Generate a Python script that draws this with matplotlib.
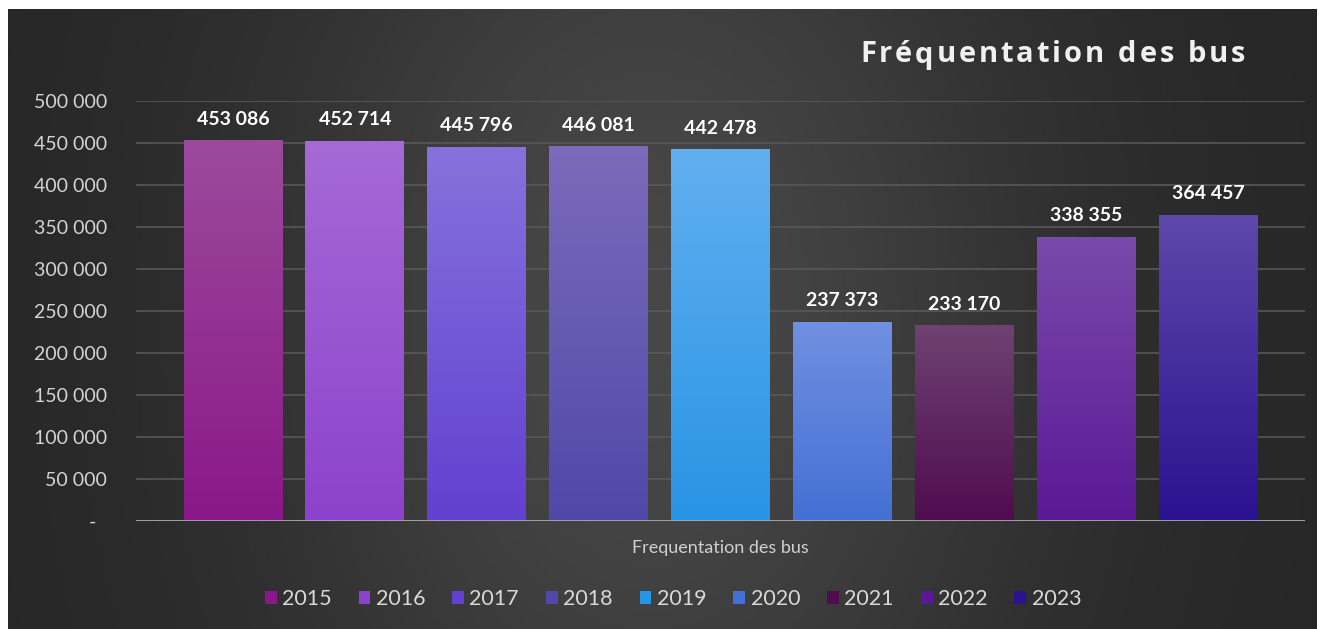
import numpy as np
import matplotlib
matplotlib.use("Agg")
import matplotlib.pyplot as plt
from matplotlib.colors import to_rgb
from matplotlib.patches import Patch
from matplotlib.ticker import FuncFormatter

# ==============================
# DATA
# ==============================
years = ["2015", "2016", "2017", "2018", "2019", "2020", "2021", "2022", "2023"]
values = [453086, 452714, 445796, 446081, 442478, 237373, 233170, 338355, 364457]
top_colors = ["#9c4a9c", "#a66ad6", "#8672dc", "#7b6bbb", "#62aff0",
              "#7090e2", "#6e4272", "#7a4aaa", "#5e48aa"]
bottom_colors = ["#8a1888", "#8c42cc", "#6240d0", "#5048a8", "#2894e4",
                 "#4470d4", "#500c50", "#5a1896", "#2a1290"]
xlabel = "Frequentation des bus"
title = "Fréquentation des bus"
yticks = [0, 50000, 100000, 150000, 200000, 250000, 300000, 350000, 400000, 450000, 500000]

plt.rcParams["font.family"] = ["Lato", "DejaVu Sans"]

W, H = 1319, 629
fig = plt.figure(figsize=(W / 100, H / 100), dpi=100, facecolor="white")

# ==============================
# BACKGROUND (dark gradient)
# ==============================
bg = fig.add_axes([8 / W, 0, (1317 - 8) / W, (H - 9) / H])
bg.set_axis_off()
gx = np.linspace(-1, 1, 400)
gy = np.linspace(-1, 1, 200)
XX, YY = np.meshgrid(gx, gy)
shade = 0.15 + 0.13 * np.exp(-((XX + 0.02) ** 2) / 0.35) * (1 - 0.25 * YY ** 2)
bg.imshow(np.dstack([shade] * 3), aspect="auto", extent=(0, 1, 0, 1))
bg.set_xlim(0, 1)
bg.set_ylim(0, 1)

# ==============================
# BARS
# ==============================
ax = fig.add_axes([136 / W, 1 - 521 / H, (1305 - 136) / W, (521 - 101) / H])
ax.set_facecolor("none")
x = np.arange(len(years))
width = 0.81
bars = ax.bar(x, values, width=width, color=bottom_colors, zorder=3)

for b, c_top, c_bot in zip(bars, top_colors, bottom_colors):
    t = np.array(to_rgb(c_top))
    bt = np.array(to_rgb(c_bot))
    f = np.linspace(0, 1, 256)[:, None]
    grad = (t * (1 - f) + bt * f)[:, None, :]
    x0 = b.get_x()
    im = ax.imshow(grad, aspect="auto", zorder=4,
                   extent=(x0, x0 + b.get_width(), 0, b.get_height()))
    im.set_clip_path(b)

for xi, v in zip(x, values):
    ax.annotate(f"{v:,}".replace(",", " "), (xi, v), xytext=(0, 9),
                textcoords="offset points", ha="center", va="bottom",
                fontsize=14, fontweight="bold", color="white", zorder=5)

ax.set_xlim(-0.795, len(years) - 1 + 0.795)
ax.set_ylim(0, 500000)
ax.set_yticks(yticks)
ax.yaxis.set_major_formatter(FuncFormatter(
    lambda v, p: "-  " if v == 0 else f"{int(v):,}".replace(",", " ")))
ax.tick_params(axis="y", length=0, pad=21, labelsize=14, labelcolor="#d4d4d4")
ax.set_xticks([])
ax.grid(axis="y", color="#585858", linewidth=1.2, zorder=0)
ax.axhline(0, color="#a8a8a8", linewidth=2, zorder=6)
for s in ax.spines.values():
    s.set_visible(False)

# ==============================
# TITLE (letter-spaced) AND LEGEND
# ==============================
renderer = fig.canvas.get_renderer()
tx = 860 / W
ty = 1 - 55 / H
for ch in title:
    if ch == " ":
        tx += 11 / W
        continue
    t = fig.text(tx, ty, ch, ha="left", va="center", fontsize=21,
                 fontweight="bold", color="#f0f0f0",
                 family=["Open Sans", "DejaVu Sans"])
    tx += (t.get_window_extent(renderer).width + 2.9) / W

fig.text(720 / W, 1 - 548 / H, xlabel, ha="center", va="center",
         fontsize=13, color="#d0d0d0")

handles = [Patch(facecolor=c, edgecolor="none") for c in bottom_colors]
fig.legend(handles, years, loc="center", bbox_to_anchor=(673 / W, 1 - 599 / H),
           ncol=len(years), frameon=False, fontsize=15.5, labelcolor="#d8d8d8",
           handlelength=0.55, handleheight=0.6, handletextpad=0.25,
           columnspacing=1.25)

fig.savefig("out.png", dpi=100)
